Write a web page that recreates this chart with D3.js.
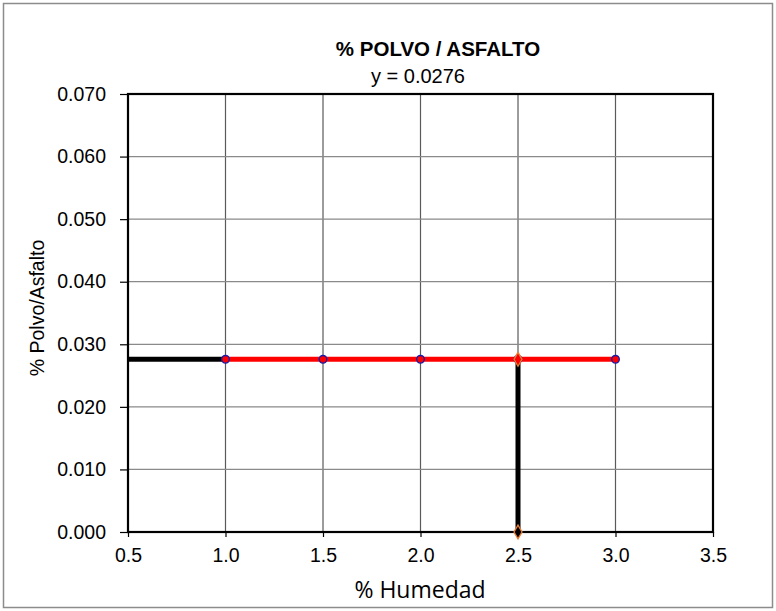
<!DOCTYPE html>
<html><head><meta charset="utf-8">
<script src="https://cdn.jsdelivr.net/npm/d3@7"></script>
<style>body{margin:0;background:#fff}svg{display:block}</style>
</head><body>
<script>
const title = "% POLVO / ASFALTO";
const equation = "y = 0.0276";
const xLabel = "% Humedad";
const yLabel = "% Polvo/Asfalto";
const xTicks = [0.5, 1.0, 1.5, 2.0, 2.5, 3.0, 3.5];
const yTicks = [0.000, 0.010, 0.020, 0.030, 0.040, 0.050, 0.060, 0.070];
const humedad = [1.0, 1.5, 2.0, 2.5, 3.0];
const polvoAsfalto = [0.0276, 0.0276, 0.0276, 0.0276, 0.0276];
const leadX = [0.5, 1.0];
const leadY = [0.0276, 0.0276];
const dropX = [2.5, 2.5];
const dropY = [0.0276, 0.0];

const W = 776, H = 611;
const m = {l:128, r:63, t:94, b:79};
const FONT = "'Liberation Sans', Arial, sans-serif";
const svg = d3.select("body").append("svg").attr("width", W).attr("height", H);
svg.append("rect").attr("x",3.5).attr("y",3.5).attr("width",W-7).attr("height",H-7)
  .attr("fill","#fff").attr("stroke","#8c8c8c").attr("stroke-width",1.5);

const x = d3.scaleLinear().domain([0.5,3.5]).range([m.l, W-m.r]);
const y = d3.scaleLinear().domain([0,0.07]).range([H-m.b, m.t]);

const g = svg.append("g");
// grid
g.selectAll(".vg").data(xTicks.slice(1,-1)).join("line")
  .attr("x1",d=>x(d)).attr("x2",d=>x(d)).attr("y1",y(0)).attr("y2",y(0.07))
  .attr("stroke","#5a5a5a").attr("stroke-width",1.2);
g.selectAll(".hg").data(yTicks.slice(1,-1)).join("line")
  .attr("y1",d=>y(d)).attr("y2",d=>y(d)).attr("x1",x(0.5)).attr("x2",x(3.5))
  .attr("stroke","#8a8a8a").attr("stroke-width",1.2);

// axes
const xa = svg.append("g").attr("transform",`translate(0,${y(0)})`)
  .call(d3.axisBottom(x).tickValues(xTicks).tickFormat(d3.format(".1f")).tickSize(5).tickPadding(11));
const ya = svg.append("g").attr("transform",`translate(${x(0.5)},0)`)
  .call(d3.axisLeft(y).tickValues(yTicks).tickFormat(d3.format(".3f")).tickSize(8).tickPadding(14));
[xa,ya].forEach(a=>{a.select(".domain").remove();
  a.selectAll("text").attr("font-family",FONT).attr("font-size",19.5).attr("fill","#000");
  a.selectAll("line").attr("stroke","#000").attr("stroke-width",1.2);});

// plot border
svg.append("rect").attr("x",x(0.5)).attr("y",y(0.07)).attr("width",x(3.5)-x(0.5)).attr("height",y(0)-y(0.07))
  .attr("fill","none").attr("stroke","#000").attr("stroke-width",2.2);

const line = d3.line().x(d=>x(d[0])).y(d=>y(d[1]));
svg.append("path").datum(d3.zip(leadX,leadY)).attr("d",line)
  .attr("stroke","#000").attr("stroke-width",5).attr("fill","none");
svg.append("path").datum(d3.zip(dropX,dropY)).attr("d",line)
  .attr("stroke","#000").attr("stroke-width",5).attr("fill","none");
svg.append("path").datum(d3.zip(humedad,polvoAsfalto)).attr("d",line)
  .attr("stroke","#ff0000").attr("stroke-width",5).attr("fill","none");
svg.selectAll(".pt").data(d3.zip(humedad,polvoAsfalto)).join("circle")
  .attr("cx",d=>x(d[0])).attr("cy",d=>y(d[1])).attr("r",3.8)
  .attr("fill","#ff0000").attr("stroke","#1a1aa8").attr("stroke-width",1.4);
const dia = d3.symbol().type(d3.symbolDiamond).size(55);
svg.selectAll(".dm").data(d3.zip(dropX,dropY)).join("path")
  .attr("d",dia).attr("transform",d=>`translate(${x(d[0])},${y(d[1])})`)
  .attr("fill",(d,i)=>i===0?"#ff0000":"#000").attr("stroke","#ed7d31").attr("stroke-width",1.3);

// texts
svg.append("text").attr("x",438).attr("y",56).attr("text-anchor","middle")
  .attr("font-family",FONT).attr("font-weight","bold").attr("font-size",20.5).text(title);
svg.append("text").attr("x",418).attr("y",83).attr("text-anchor","middle")
  .attr("font-family",FONT).attr("font-size",20).text(equation);
svg.append("text").attr("x",420).attr("y",598).attr("text-anchor","middle")
  .attr("font-family","'Open Sans', 'Noto Sans', sans-serif").attr("font-size",23).text(xLabel);
svg.append("text").attr("transform","translate(44,308) rotate(-90)").attr("text-anchor","middle")
  .attr("font-family",FONT).attr("font-size",19.5).text(yLabel);
</script>
</body></html>
